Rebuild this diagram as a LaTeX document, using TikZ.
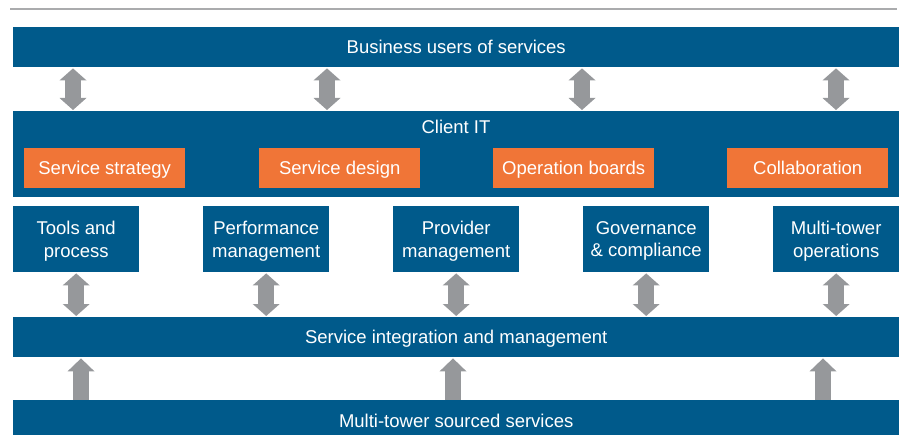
\documentclass[tikz,border=0pt]{standalone}
\usepackage{fontspec}
\setmainfont{Liberation Sans}
\usetikzlibrary{arrows.meta}
\definecolor{bluebar}{RGB}{0,90,139}
\definecolor{orangebox}{RGB}{240,117,55}
\definecolor{arrowgrey}{RGB}{150,152,155}
\definecolor{rulegrey}{RGB}{170,171,173}
\begin{document}
\begin{tikzpicture}[x=1pt,y=-1pt,
  every node/.style={text=white,inner sep=0pt,text depth=0pt,font=\fontsize{18.5}{22.5}\selectfont},
  bar/.style={fill=bluebar,minimum width=886pt,anchor=north west},
  task/.style={fill=orangebox,minimum width=161pt,minimum height=40pt,anchor=north west},
  unit/.style={fill=bluebar,minimum width=126pt,minimum height=66pt,anchor=north west,align=center},
  fat/.style={Triangle[width=27pt,length=12pt,line width=0pt]},
  twoway/.style={line width=16pt,draw=arrowgrey,{Triangle[width=27pt,length=12pt,line width=0pt]}-{Triangle[width=27pt,length=12pt,line width=0pt]},shorten <=1pt,shorten >=1pt},
  oneway/.style={line width=16pt,draw=arrowgrey,-{Triangle[width=27pt,length=13pt,line width=0pt]},shorten >=1pt}]
\useasboundingbox (0,0) rectangle (901,435);
\draw [line width=2.5pt, rulegrey] (10,9) -- (897,9);
\node [bar, minimum height=40pt] (biz) at (13,27) {Business users of services};
\node [bar, minimum height=86pt] (cit) at (13,111) {};
\node [anchor=base] (citlbl) at (456,134) {Client IT};
\node [task] (strat) at (24,148) {Service strategy};
\node [task] (design) at (259,148) {Service design};
\node [task] (boards) at (493,148) {Operation boards};
\node [task] (collab) at (727,148) {Collaboration};
\node [unit] (tools) at (13,206) {Tools and\\process};
\node [unit] (perf) at (203,206) {Performance\\management};
\node [unit] (prov) at (393,206) {Provider\\management};
\node [unit] (gov) at (583,206) {Governance\\\& compliance};
\node [unit] (multi) at (773,206) {Multi-tower\\operations};
\node [bar, minimum height=40pt] (sim) at (13,317) {Service integration and management};
\node [bar, minimum height=42pt] (mts) at (13,400) {Multi-tower sourced services};
\foreach \x in {73,327,582,836}
  \draw [twoway] (biz.south -| \x,0) -- (cit.north -| \x,0);
\foreach \b in {tools,perf,prov,gov,multi}
  \draw [twoway] (\b.south) -- (\b.south |- sim.north);
\foreach \x in {81,453,823}
  \draw [oneway] (mts.north -| \x,0) -- (sim.south -| \x,0);
\end{tikzpicture}
\end{document}
